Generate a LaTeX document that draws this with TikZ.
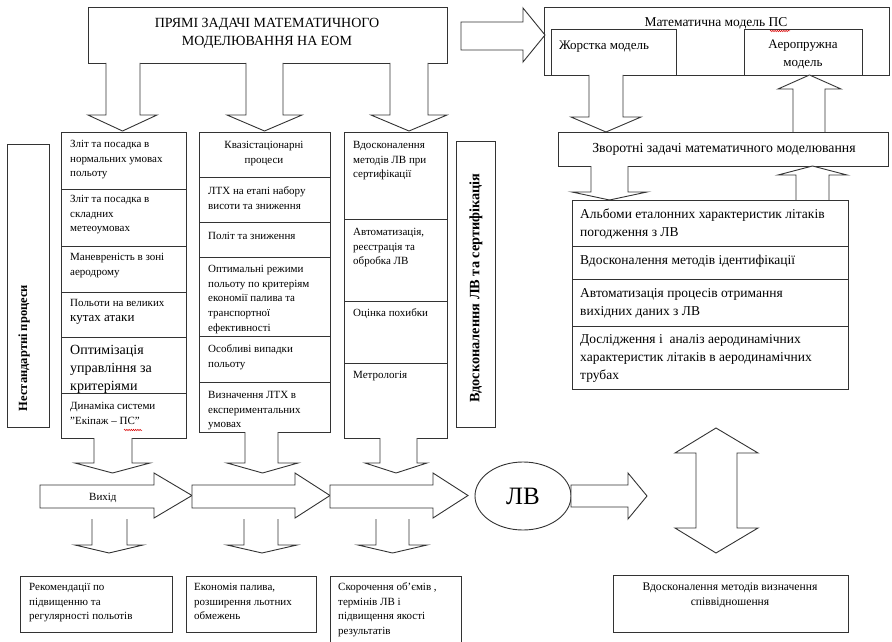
\documentclass[tikz,border=0pt]{standalone}
\usepackage{fontspec}
\setmainfont{Liberation Serif}
\usetikzlibrary{shapes.geometric,decorations.pathmorphing}
\tikzset{
  ln/.style={draw=black!80, line width=0.9pt},
  box/.style={ln, rectangle, inner sep=0pt, outer sep=0pt, anchor=north west},
  ctxt/.style={anchor=north west, inner sep=0pt, align=left, font=\fontsize{11}{14.6}\selectfont, yshift=7.7pt},
  atxt/.style={anchor=north west, inner sep=0pt, align=left, font=\fontsize{13.5}{18}\selectfont, yshift=9.5pt},
  one/.style={inner sep=0pt},
  squig/.style={draw=red!85!black, line width=0.5pt, decorate, decoration={snake, amplitude=0.7pt, segment length=2.2pt}},
}
% box: name, x1, y1, x2, y2
\newcommand{\bx}[5]{\node[box, minimum width={(#4)-(#2)}, minimum height={(#5)-(#3)}] (#1) at (#2,#3) {};}
% vertical block arrow: shaft l, shaft r, head l, head r, start y, head base y, tip y
\newcommand{\varr}[7]{\draw[ln, fill=white] (#1,#5) -- (#1,#6) -- (#3,#6) -- ({(#3+#4)/2},#7) -- (#4,#6) -- (#2,#6) -- (#2,#5);}
% horizontal block arrow: start x, shaft top, shaft bottom, head top, head bottom, head base x, tip x
\newcommand{\harr}[7]{\draw[ln, fill=white] (#1,#2) -- (#6,#2) -- (#6,#4) -- (#7,{(#4+#5)/2}) -- (#6,#5) -- (#6,#3) -- (#1,#3) -- cycle;}
\begin{document}
\begin{tikzpicture}[x=1pt, y=-1pt]
\useasboundingbox (0,0) rectangle (892,642);

% ---------- top ----------
\bx{top}{88}{7}{447}{63}
\node[anchor=north, inner sep=0pt, align=center, font=\fontsize{14}{18}\selectfont, yshift=7pt] (toptxt) at (267,22) {\strut ПРЯМІ ЗАДАЧІ МАТЕМАТИЧНОГО\\МОДЕЛЮВАННЯ НА ЕОМ};

\harr{461}{22}{50}{8}{62}{523}{545}

\bx{model}{544}{7}{889}{75}
\node[one, anchor=base, font=\fontsize{13.5}{16}\selectfont] (modeltxt) at (716,27) {Математична модель ПС};
\draw[squig] (770,31) -- (790,31);
\bx{hard}{551}{29}{676}{75}
\node[one, anchor=base west, font=\fontsize{13}{16}\selectfont] (hardtxt) at (559,50) {Жорстка модель};
\bx{elast}{744}{29}{862}{75}
\node[anchor=north, inner sep=0pt, align=center, font=\fontsize{13}{18}\selectfont, yshift=9pt] (elasttxt) at (803,45) {\strut Аеропружна\\модель};

\varr{589}{623}{571}{641}{75}{117}{132}
\varr{793}{825}{778}{841}{132}{89}{75}

\bx{inv}{558}{132}{888}{166}
\node[one, anchor=base, font=\fontsize{13.8}{16}\selectfont] (invtxt) at (724,152) {Зворотні задачі математичного моделювання};

\varr{591}{628}{572}{647}{166}{192}{200}
\varr{796}{829}{778}{847}{200}{175}{166}

\bx{alb}{572}{200}{848}{389}
\draw[ln] (572,246) -- (848,246);
\draw[ln] (572,279) -- (848,279);
\draw[ln] (572,326) -- (848,326);
\node[atxt] (a1) at (580,215) {\strut Альбоми еталонних характеристик літаків\\погодження з ЛВ};
\node[atxt] (a2) at (580,261) {\strut Вдосконалення методів ідентифікації};
\node[atxt] (a3) at (580,294) {\strut Автоматизація процесів отримання\\вихідних даних з ЛВ};
\node[atxt] (a4) at (580,340) {\strut Дослідження і~ аналіз аеродинамічних\\характеристик літаків в аеродинамічних\\трубах};

% ---------- arrows from top box ----------
\varr{106}{140}{88}{157}{63}{115}{131}
\varr{246}{283}{227}{302}{63}{115}{131}
\varr{390}{428}{371}{447}{63}{115}{131}

% ---------- left vertical label ----------
\bx{nonst}{7}{144}{49}{427}
\node[one, rotate=90, font=\bfseries\fontsize{12.5}{15}\selectfont] (nonsttxt) at (24,348) {Нестандартні процеси};

% ---------- column 1 ----------
\bx{c1}{61}{132}{186}{438}
\foreach \yy in {189,246,292,337,393} \draw[ln] (61,\yy) -- (186,\yy);
\node[ctxt] (c11) at (70,145) {\strut Зліт та посадка в\\нормальних умовах\\польоту};
\node[ctxt] (c12) at (70,200) {\strut Зліт та посадка в\\складних\\метеоумовах};
\node[ctxt] (c13) at (70,258) {\strut Маневреність в зоні\\аеродрому};
\node[ctxt] (c14) at (70,304) {\strut Польоти на великих\\{\fontsize{13}{15}\selectfont кутах атаки}};
\node[ctxt, font=\fontsize{14}{18}\selectfont, yshift=1.7pt] (c15) at (70,351) {\strut Оптимізація\\управління за\\критеріями};
\node[ctxt] (c16) at (70,407) {\strut Динаміка системи\\"Екіпаж – ПС"};
\draw[squig] (124,430) -- (142,430);

% ---------- column 2 ----------
\bx{c2}{199}{132}{330}{432}
\foreach \yy in {177,222,257,336,382} \draw[ln] (199,\yy) -- (330,\yy);
\node[ctxt, anchor=north, align=center] (c21) at (264,146) {\strut Квазістаціонарні\\процеси};
\node[ctxt] (c22) at (208,192) {\strut ЛТХ на етапі набору\\висоти та зниження};
\node[ctxt] (c23) at (208,237) {\strut Політ та зниження};
\node[ctxt] (c24) at (208,270) {\strut Оптимальні режими\\польоту по критеріям\\економії палива та\\транспортної\\ефективності};
\node[ctxt] (c25) at (208,350) {\strut Особливі випадки\\польоту};
\node[ctxt] (c26) at (208,396) {\strut Визначення ЛТХ в\\експериментальних\\умовах};

% ---------- column 3 ----------
\bx{c3}{344}{132}{447}{438}
\foreach \yy in {219,301,363} \draw[ln] (344,\yy) -- (447,\yy);
\node[ctxt] (c31) at (353,146) {\strut Вдосконалення\\методів ЛВ при\\сертифікації};
\node[ctxt] (c32) at (353,233) {\strut Автоматизація,\\реєстрація та\\обробка ЛВ};
\node[ctxt] (c33) at (353,314) {\strut Оцінка похибки};
\node[ctxt] (c34) at (353,376) {\strut Метрологія};

% ---------- right vertical label ----------
\bx{cert}{456}{141}{495}{427}
\node[one, rotate=90, font=\bfseries\fontsize{14.3}{16}\selectfont] (certtxt) at (476,288) {Вдосконалення ЛВ та сертифікація};

% ---------- arrows below columns ----------
\varr{94}{132}{75}{150}{438}{463}{473}
\varr{245}{278}{227}{298}{432}{463}{473}
\varr{380}{417}{365}{427}{438}{463}{473}

% ---------- horizontal chain ----------
\harr{40}{485}{508}{473}{518}{154}{192}
\node[one, anchor=base west, font=\fontsize{11}{14}\selectfont] (out) at (89,500) {Вихід};
\harr{192}{485}{508}{473}{518}{295}{330}
\harr{330}{485}{508}{473}{518}{433}{468}

\node[ln, ellipse, fill=white, minimum width=96pt, minimum height=68pt, inner sep=0pt, font=\fontsize{25}{28}\selectfont] (lv) at (523,496) {ЛВ};
\harr{571}{485}{507}{473}{519}{628}{647}

% double arrow
\draw[ln, fill=white] (716,428) -- (758,453) -- (737,453) -- (737,528) -- (758,528) -- (716,553) -- (675,528) -- (696,528) -- (696,453) -- (675,453) -- cycle;

% ---------- lower arrows ----------
\varr{92}{127}{75}{143}{519}{545}{553}
\varr{244}{278}{227}{297}{519}{545}{553}
\varr{376}{409}{358}{427}{519}{545}{553}

% ---------- bottom boxes ----------
\bx{b1}{20}{576}{172}{632}
\node[ctxt] (b1t) at (29,588) {\strut Рекомендації по\\підвищенню та\\регулярності польотів};
\bx{b2}{186}{576}{316}{632}
\node[ctxt] (b2t) at (194,588) {\strut Економія палива,\\розширення льотних\\обмежень};
\bx{b3}{330}{576}{461}{660}
\node[ctxt] (b3t) at (338,588) {\strut Скорочення об’ємів ,\\термінів ЛВ і\\підвищення якості\\результатів};
\bx{b4}{613}{575}{848}{632}
\node[anchor=north, inner sep=0pt, align=center, font=\fontsize{11.6}{15}\selectfont, yshift=8pt] (b4t) at (730,588) {\strut Вдосконалення методів визначення\\співвідношення};
\end{tikzpicture}
\end{document}
